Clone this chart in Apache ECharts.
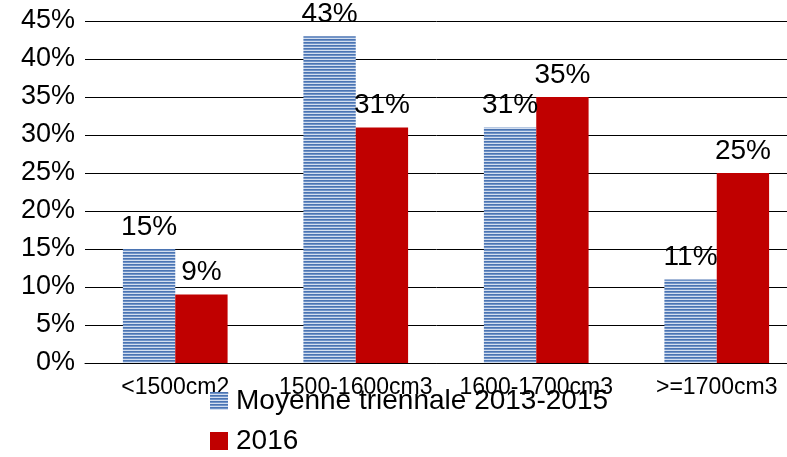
<!DOCTYPE html>
<html>
<head>
<meta charset="utf-8">
<script src="https://cdn.jsdelivr.net/npm/echarts@6/dist/echarts.min.js"></script>
<style>
  html, body { margin: 0; padding: 0; background: #fff; }
  #chart { width: 787px; height: 457px; }
</style>
</head>
<body>
<div id="chart"></div>
<script>
// Engine displacement classes and share of registrations per class (%)
const categories = ['<1500cm2', '1500-1600cm3', '1600-1700cm3', '>=1700cm3'];
const seriesNames = ['Moyenne triennale 2013-2015', '2016'];
const moyenneValues = [15, 43, 31, 11];
const values2016 = [9, 31, 35, 25];
const yTicks = [0, 5, 10, 15, 20, 25, 30, 35, 40, 45];

// Horizontal-stripe fill for the three-year average bars
function stripePattern() {
  const c = document.createElement('canvas');
  c.width = 4; c.height = 3;
  const ctx = c.getContext('2d');
  ctx.fillStyle = '#d3deef';
  ctx.fillRect(0, 0, 4, 3);
  ctx.fillStyle = '#4b74b2';
  ctx.fillRect(0, 0, 4, 1);
  ctx.fillStyle = '#6f93c8';
  ctx.fillRect(0, 1, 4, 1);
  return { image: c, repeat: 'repeat' };
}

const font = '"Liberation Sans", Arial, sans-serif';
const chart = echarts.init(document.getElementById('chart'), null, { renderer: 'canvas' });

const labelOpt = {
  show: true,
  position: 'top',
  distance: 8,
  fontFamily: font,
  fontSize: 28,
  color: '#000',
  formatter: p => p.value + '%'
};

// One legend block per series, stacked under the axis labels
function legendFor(name, top) {
  return {
    orient: 'vertical',
    left: 210,
    top: top,
    padding: 0,
    itemWidth: 18,
    itemHeight: 18,
    icon: 'rect',
    textStyle: { fontFamily: font, fontSize: 28, color: '#000', padding: [0, 0, 0, 3] },
    data: [name]
  };
}

chart.setOption({
  animation: false,
  backgroundColor: '#fff',
  // plot area runs past the right edge of the canvas
  grid: { left: 85, top: 21, width: 722, bottom: 94, outerBoundsMode: 'none', containLabel: false },
  legend: [legendFor(seriesNames[0], 387), legendFor(seriesNames[1], 427)],
  xAxis: {
    type: 'category',
    data: categories,
    axisLine: { show: true, lineStyle: { color: '#000', width: 1 } },
    axisTick: { show: false },
    axisLabel: { interval: 0, margin: 13, fontFamily: font, fontSize: 23, color: '#000' }
  },
  yAxis: {
    type: 'value',
    min: yTicks[0],
    max: yTicks[yTicks.length - 1],
    interval: 5,
    axisLine: { show: false },
    axisTick: { show: false },
    splitLine: { show: true, lineStyle: { color: '#000', width: 1 } },
    axisLabel: { margin: 10, fontFamily: font, fontSize: 27, color: '#000', formatter: '{value}%' }
  },
  series: [
    {
      name: seriesNames[0],
      type: 'bar',
      data: moyenneValues,
      barGap: '0%',
      barCategoryGap: '42%',
      itemStyle: { color: stripePattern() },
      label: labelOpt
    },
    {
      name: seriesNames[1],
      type: 'bar',
      data: values2016,
      barGap: '0%',
      barCategoryGap: '42%',
      itemStyle: { color: '#c00000' },
      label: labelOpt
    }
  ]
});
</script>
</body>
</html>
